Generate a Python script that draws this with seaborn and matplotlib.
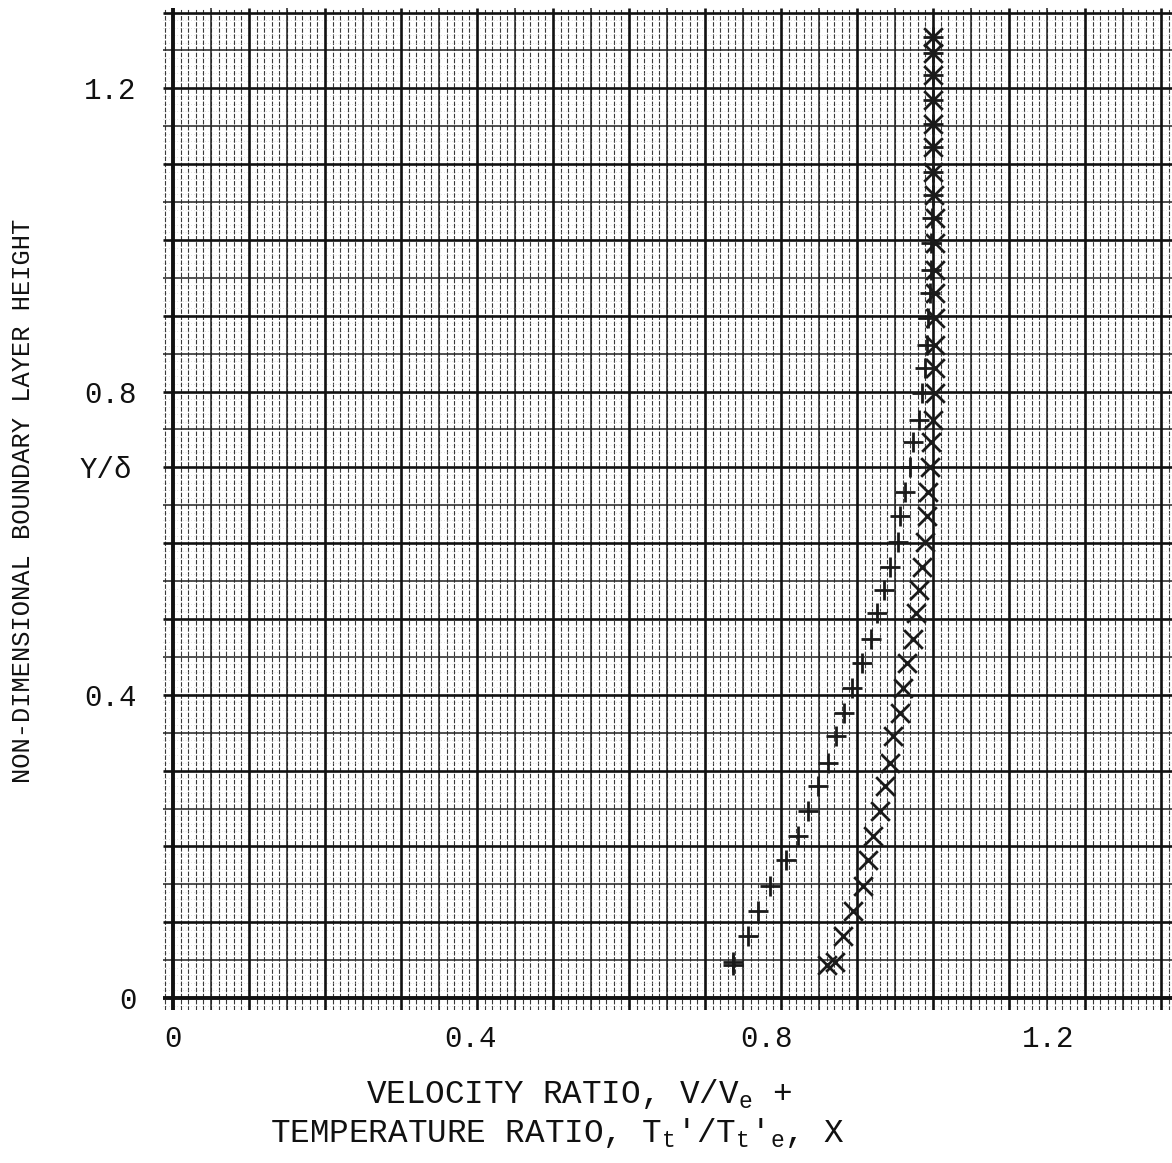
import numpy as np
import matplotlib
matplotlib.use('Agg')
import matplotlib.pyplot as plt
import matplotlib.transforms as mtransforms
from matplotlib.ticker import MultipleLocator, FixedLocator, FixedFormatter
import seaborn as sns


# valores (Y/delta, V/Ve, Tt'/Tt'e)
y_delta = [0.043, 0.048, 0.082, 0.115, 0.148, 0.182, 0.214, 0.247, 0.280, 0.310,
           0.346, 0.376, 0.409, 0.442, 0.473, 0.508, 0.538, 0.569, 0.601, 0.636,
           0.667, 0.701, 0.733, 0.763, 0.798, 0.831, 0.861, 0.897, 0.930, 0.960,
           0.996, 1.029, 1.059, 1.090, 1.123, 1.153, 1.184, 1.218, 1.246, 1.268]

velocity_ratio = [0.737, 0.737, 0.757, 0.770, 0.786, 0.807, 0.823, 0.836, 0.849, 0.862,
                  0.872, 0.883, 0.893, 0.906, 0.919, 0.926, 0.935, 0.943, 0.954, 0.957,
                  0.963, 0.970, 0.974, 0.981, 0.985, 0.990, 0.992, 0.994, 0.996, 0.997,
                  0.998, 0.999, 1.000, 1.000, 1.000, 1.000, 1.000, 1.000, 1.000, 1.000]

temperature_ratio = [0.860, 0.871, 0.882, 0.895, 0.908, 0.915, 0.921, 0.930, 0.937, 0.943,
                     0.948, 0.957, 0.961, 0.966, 0.974, 0.978, 0.981, 0.985, 0.989, 0.992,
                     0.994, 0.996, 0.998, 1.000, 1.003, 1.003, 1.003, 1.003, 1.003, 1.003,
                     1.003, 1.002, 1.001, 1.000, 1.000, 1.000, 1.000, 1.000, 1.000, 1.000]

x_tick_values = [0, 0.4, 0.8, 1.2]
x_tick_labels = ['0', '0.4', '0.8', '1.2']
y_tick_values = [0, 0.4, 0.8, 1.2]
y_tick_labels = ['0', '0.4', '0.8', '1.2']


sns.set_style('white')
plt.rcParams['font.family'] = ['Liberation Mono', 'DejaVu Sans Mono']
plt.rcParams['mathtext.fontset'] = 'custom'
plt.rcParams['mathtext.rm'] = 'Liberation Mono'
plt.rcParams['mathtext.it'] = 'Liberation Mono'

fig = plt.figure(figsize=(11.72, 11.63), dpi=100)
ax = fig.add_axes([163 / 1172, (1163 - 1010) / 1163, 1009 / 1172, 1002 / 1163])
ax.set_xlim(-0.0132, 1.3145)
ax.set_ylim(-0.0158, 1.306)

# papel milimetrado: linhas de 0.01, 0.05 e 0.1
ax.set_axisbelow(True)
ax.xaxis.set_minor_locator(MultipleLocator(0.01))
ax.yaxis.set_minor_locator(MultipleLocator(0.01))
ax.grid(which='minor', axis='x', color='#3a3a3a', lw=0.8, ls=(0, (4, 1.5)))
ax.grid(which='minor', axis='y', color='#c4c4c4', lw=0.5, ls=(0, (1, 3)))
grid_major = np.arange(0.1, 1.31, 0.1)
grid_half = np.arange(0.05, 1.31, 0.1)
ax.vlines(grid_half, -0.0158, 1.306, color='#222222', lw=1.1, zorder=0.6)
ax.hlines(grid_half, -0.0132, 1.3145, color='#222222', lw=1.1, zorder=0.6)
ax.vlines(grid_major, -0.0158, 1.306, color='#111111', lw=1.9, zorder=0.7)
ax.hlines(grid_major, -0.0132, 1.3145, color='#111111', lw=1.9, zorder=0.7)
ax.axvline(0, color='#111111', lw=2.8, zorder=0.8)
ax.axhline(0, color='#111111', lw=2.8, zorder=0.8)

for side in ['top', 'right', 'left', 'bottom']:
    ax.spines[side].set_visible(False)

sns.scatterplot(x=velocity_ratio, y=y_delta, marker='+', s=210, color='#1a1a1a',
                linewidth=2.0, ax=ax, zorder=3)
sns.scatterplot(x=temperature_ratio, y=y_delta, marker='x', s=180, color='#1a1a1a',
                linewidth=2.0, ax=ax, zorder=3)

ax.xaxis.set_major_locator(FixedLocator(x_tick_values))
ax.xaxis.set_major_formatter(FixedFormatter(x_tick_labels))
ax.yaxis.set_major_locator(FixedLocator(y_tick_values))
ax.yaxis.set_major_formatter(FixedFormatter(y_tick_labels))
ax.tick_params(which='both', length=0)
ax.tick_params(axis='x', which='major', labelsize=21, pad=11, labelcolor='#111111')
ax.tick_params(axis='y', which='major', labelsize=21, pad=19, labelcolor='#111111')

# rotulos do eixo x ficam um pouco para a esquerda no original
shifts = [0.0, -0.07, -0.15, -0.37]
for lbl, dx in zip(ax.get_xticklabels(), shifts):
    lbl.set_transform(lbl.get_transform() + mtransforms.ScaledTranslation(dx, 0, fig.dpi_scale_trans))

ax.set_xlabel('')
ax.set_ylabel('NON-DIMENSIONAL BOUNDARY LAYER HEIGHT', fontsize=18.3, color='#111111')
ax.yaxis.set_label_coords(-0.127, 0.508)

fig.text(80 / 1172, 1 - 470 / 1163, 'Y/δ', fontsize=21, va='center', ha='left', color='#111111')
fig.text(366 / 1172, 1 - 1103 / 1163, 'VELOCITY RATIO, V/V$_\\mathrm{e}$ +',
         fontsize=23.5, va='baseline', ha='left', color='#111111')
fig.text(270 / 1172, 1 - 1142 / 1163,
         "TEMPERATURE RATIO, T$_\\mathrm{t}$'/T$_\\mathrm{t}$'$_\\mathrm{e}$, X",
         fontsize=23.5, va='baseline', ha='left', color='#111111')

fig.savefig('out.png', dpi=100)
